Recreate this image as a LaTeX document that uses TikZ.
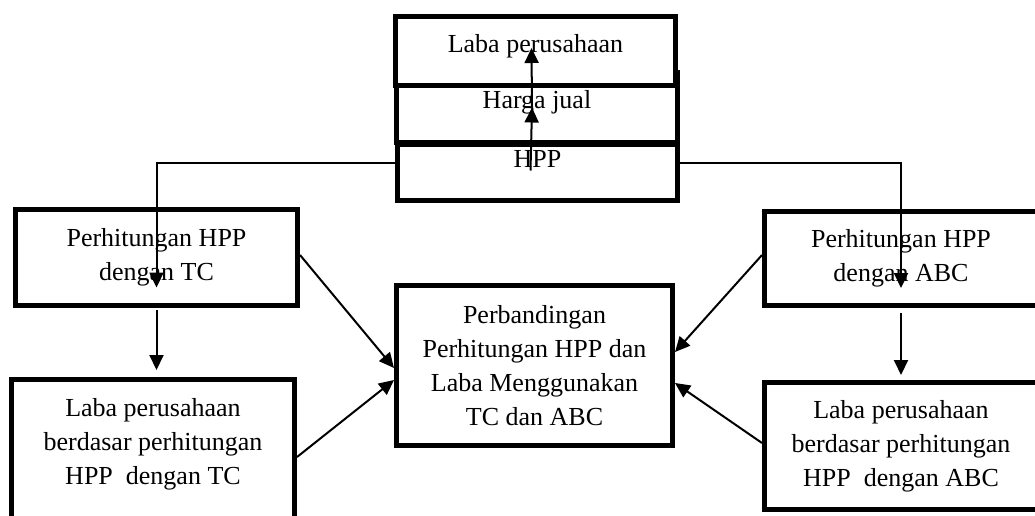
\documentclass[tikz,border=0pt]{standalone}
\usepackage{fontspec}
\setmainfont{Liberation Serif}
\usetikzlibrary{arrows.meta}

\begin{document}
\begin{tikzpicture}
    [ x=1pt, y=-1pt,
      font={\fontsize{26}{34}\selectfont},
      box/.style={draw, fill=white, line width=5pt, inner sep=0pt, align=center},
      stack/.style={draw, fill=white, line width=5pt, inner sep=0pt, text height=18pt},
      link/.style={line width=2pt},
      arrow/.style={link, -{Triangle[length=15pt, width=14pt]}}
    ]
    \useasboundingbox (0, 0) rectangle (1035, 516);
    \clip (0, 0) rectangle (1035, 516);

    % Stacked boxes
    \node[stack, text depth=29pt, minimum width=280pt, minimum height=56pt]
        (hpp) at (537.5, 172.5) {HPP};
    \node[stack, text depth=15pt, minimum width=281pt, minimum height=70pt]
        (harga) at (537, 107.5) {Harga jual};
    \node[stack, text depth=14pt, minimum width=280pt, minimum height=69pt]
        (laba) at (535.5, 51) {Laba perusahaan};

    % Left column
    \node[box, minimum width=282pt, minimum height=96pt]
        (tc1) at (156.5, 257.5) {Perhitungan HPP\\dengan TC};
    \node[box, minimum width=283pt, minimum height=158pt]
        (tc2) at (153, 458.5) {Laba perusahaan\\berdasar perhitungan\\HPP~ dengan TC\\};

    % Right column
    \node[box, minimum width=273pt, minimum height=94pt]
        (abc1) at (901, 258.5) {Perhitungan HPP\\dengan ABC};
    \node[box, minimum width=273pt, minimum height=127pt]
        (abc2) at (901, 446) {Laba perusahaan\\berdasar perhitungan\\HPP~ dengan ABC};

    % Comparison
    \node[box, minimum width=276pt, minimum height=160pt]
        (cmp) at (534.5, 365.5) {Perbandingan\\Perhitungan HPP dan\\Laba Menggunakan\\TC dan ABC};

    % Arrows
    \draw[arrow] ([xshift=-7pt, yshift=2pt]hpp.center) -- ([xshift=-5pt]harga.center);
    \draw[arrow] ([xshift=-5pt]harga.center) -- ([xshift=-4pt, yshift=3pt]laba.center);

    \draw[arrow] ([yshift=9.5pt]hpp.west) -| ([yshift=-30pt]tc1.center);
    \draw[arrow] ([yshift=9.5pt]hpp.east) -| ([yshift=-29.5pt]abc1.center);

    \draw[arrow, shorten <=2pt, shorten >=7pt] (tc1.south) -- (tc1.south |- tc2.north);
    \draw[arrow, shorten <=5pt, shorten >=5pt] (abc1.south) -- (abc1.south |- abc2.north);

    \draw[arrow] ([yshift=2.5pt]tc1.east) -- ([yshift=-2.5pt]cmp.west);
    \draw[arrow] ([yshift=1.5pt]tc2.east) -- ([yshift=-14.5pt]cmp.west);
    \draw[arrow] ([yshift=3.5pt]abc1.west) -- ([yshift=13.5pt]cmp.east);
    \draw[arrow] ([yshift=3pt]abc2.west) -- ([yshift=-17.5pt]cmp.east);

\end{tikzpicture}
\end{document}
